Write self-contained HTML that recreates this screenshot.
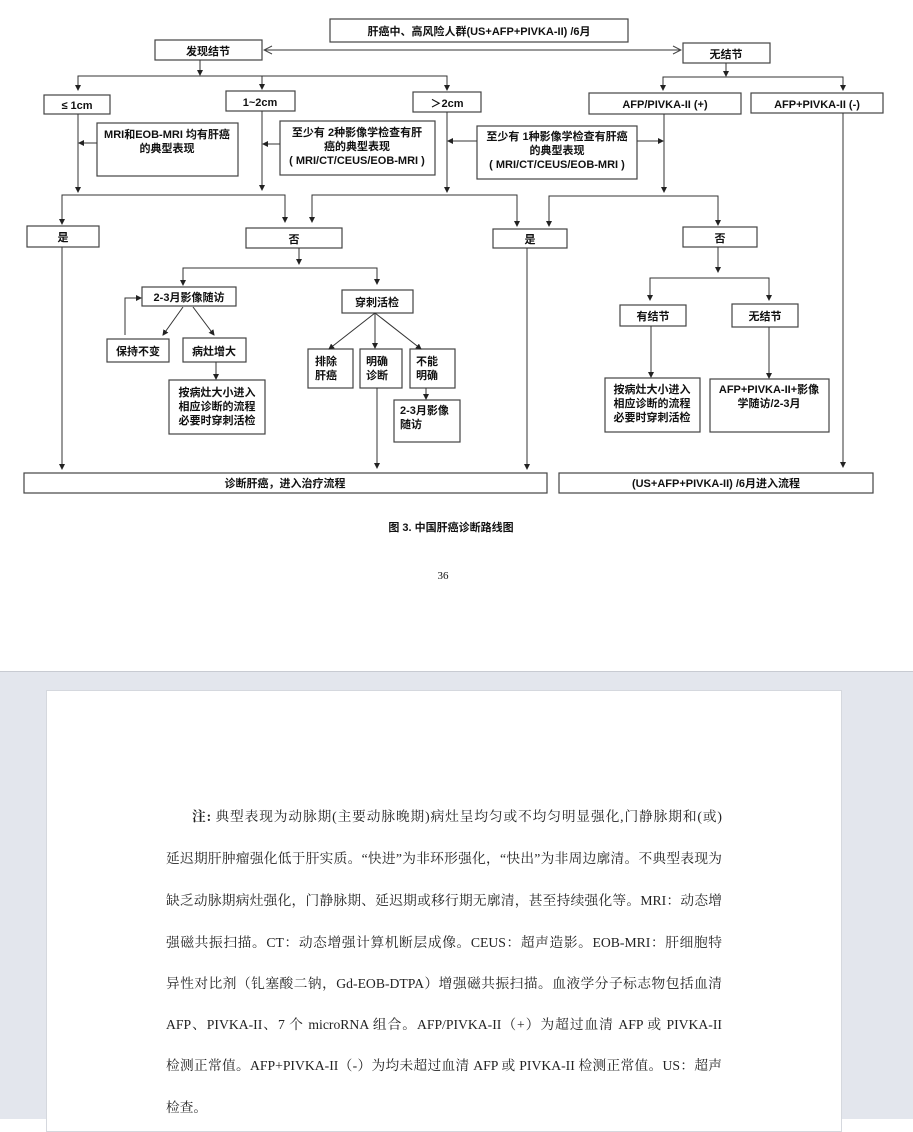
<!DOCTYPE html>
<html><head><meta charset="utf-8"><style>
html,body{margin:0;padding:0;}
body{width:913px;height:1118px;position:relative;overflow:hidden;background:#fff;font-family:"Liberation Sans","Noto Sans CJK SC",sans-serif;}
#gray{position:absolute;left:0;top:671px;width:913px;height:447px;background:#e3e6ed;border-top:1px solid #c8cbd2;}
#page2{position:absolute;left:46px;top:690px;width:794px;height:440px;background:#fff;border:1px solid #d5d8de;}
.ln{position:absolute;left:166px;width:556px;font-family:"Liberation Serif","Noto Serif CJK SC",serif;font-size:13.7px;color:#222;white-space:nowrap;text-align:justify;text-align-last:justify;}
.ln.last{text-align-last:left;}
svg text{font-family:"Liberation Sans","Noto Sans CJK SC",sans-serif;font-weight:bold;font-size:11px;fill:#111;}
</style></head><body>
<svg width="913" height="670" style="position:absolute;left:0;top:0">
<defs>
<marker id="a" markerWidth="6" markerHeight="6" refX="5" refY="3" orient="auto" markerUnits="userSpaceOnUse"><path d="M0,0 L6,3 L0,6z" fill="#222"/></marker>
<marker id="o" markerWidth="10" markerHeight="10" refX="9" refY="5" orient="auto" markerUnits="userSpaceOnUse"><path d="M1,1 L9,5 L1,9" fill="none" stroke="#444"/></marker>
<marker id="os" markerWidth="10" markerHeight="10" refX="1" refY="5" orient="auto" markerUnits="userSpaceOnUse"><path d="M9,1 L1,5 L9,9" fill="none" stroke="#444"/></marker>
</defs>
<g fill="#fff" stroke="#444" stroke-width="1.2">
<rect x="330" y="19" width="298" height="23"/>
<rect x="155" y="40" width="107" height="20"/>
<rect x="683" y="43" width="87" height="20"/>
<rect x="44" y="95" width="66" height="19"/>
<rect x="226" y="91" width="69" height="20"/>
<rect x="413" y="92" width="68" height="20"/>
<rect x="97" y="123" width="141" height="53"/>
<rect x="280" y="121" width="155" height="54"/>
<rect x="477" y="126" width="160" height="53"/>
<rect x="589" y="93" width="152" height="21"/>
<rect x="751" y="93" width="132" height="20"/>
<rect x="27" y="226" width="72" height="21"/>
<rect x="246" y="228" width="96" height="20"/>
<rect x="493" y="229" width="74" height="19"/>
<rect x="683" y="227" width="74" height="20"/>
<rect x="142" y="287" width="94" height="19"/>
<rect x="342" y="290" width="71" height="23"/>
<rect x="107" y="339" width="62" height="23"/>
<rect x="183" y="338" width="63" height="24"/>
<rect x="169" y="380" width="96" height="54"/>
<rect x="308" y="349" width="45" height="39"/>
<rect x="360" y="349" width="42" height="39"/>
<rect x="410" y="349" width="45" height="39"/>
<rect x="394" y="400" width="66" height="42"/>
<rect x="620" y="305" width="66" height="21"/>
<rect x="732" y="304" width="66" height="23"/>
<rect x="605" y="378" width="95" height="54"/>
<rect x="710" y="379" width="119" height="53"/>
<rect x="24" y="473" width="523" height="20"/>
<rect x="559" y="473" width="314" height="20"/>
</g>
<g stroke="#333" stroke-width="1" fill="none">
<line x1="264" y1="50" x2="681" y2="50" marker-end="url(#o)" marker-start="url(#os)"/>
<line x1="200" y1="60" x2="200" y2="75" marker-end="url(#a)"/>
<polyline points="78,90 78,76 447,76 447,90" marker-end="url(#a)"/>
<line x1="78" y1="76" x2="78" y2="90" marker-end="url(#a)"/>
<line x1="262" y1="76" x2="262" y2="89" marker-end="url(#a)"/>
<line x1="78" y1="114" x2="78" y2="192" marker-end="url(#a)"/>
<line x1="262" y1="111" x2="262" y2="190" marker-end="url(#a)"/>
<line x1="447" y1="112" x2="447" y2="192" marker-end="url(#a)"/>
<line x1="97" y1="143" x2="79" y2="143" marker-end="url(#a)"/>
<line x1="280" y1="144" x2="263" y2="144" marker-end="url(#a)"/>
<line x1="477" y1="141" x2="448" y2="141" marker-end="url(#a)"/>
<line x1="637" y1="141" x2="663" y2="141" marker-end="url(#a)"/>
<polyline points="62,224 62,195 285,195 285,222" marker-end="url(#a)"/>
<polyline points="312,222 312,195 517,195 517,226" marker-end="url(#a)"/>
<line x1="62" y1="195" x2="62" y2="224" marker-end="url(#a)"/>
<line x1="312" y1="195" x2="312" y2="222" marker-end="url(#a)"/>
<line x1="726" y1="63" x2="726" y2="76" marker-end="url(#a)"/>
<polyline points="663,90 663,77 843,77 843,90" marker-end="url(#a)"/>
<line x1="663" y1="77" x2="663" y2="90" marker-end="url(#a)"/>
<line x1="664" y1="114" x2="664" y2="192" marker-end="url(#a)"/>
<polyline points="549,226 549,196 718,196 718,225" marker-end="url(#a)"/>
<line x1="549" y1="196" x2="549" y2="226" marker-end="url(#a)"/>
<line x1="843" y1="113" x2="843" y2="467" marker-end="url(#a)"/>
<line x1="718" y1="247" x2="718" y2="272" marker-end="url(#a)"/>
<polyline points="650,300 650,278 769,278 769,300" marker-end="url(#a)"/>
<line x1="650" y1="278" x2="650" y2="300" marker-end="url(#a)"/>
<line x1="651" y1="326" x2="651" y2="377" marker-end="url(#a)"/>
<line x1="769" y1="327" x2="769" y2="378" marker-end="url(#a)"/>
<line x1="62" y1="247" x2="62" y2="469" marker-end="url(#a)"/>
<line x1="527" y1="248" x2="527" y2="469" marker-end="url(#a)"/>
<line x1="299" y1="248" x2="299" y2="264" marker-end="url(#a)"/>
<polyline points="183,285 183,268 377,268 377,284" marker-end="url(#a)"/>
<line x1="183" y1="268" x2="183" y2="285" marker-end="url(#a)"/>
<polyline points="125,335 125,298 141,298" marker-end="url(#a)"/>
<line x1="183" y1="307" x2="163" y2="335" marker-end="url(#a)"/>
<line x1="193" y1="307" x2="214" y2="335" marker-end="url(#a)"/>
<line x1="216" y1="362" x2="216" y2="379" marker-end="url(#a)"/>
<line x1="375" y1="313" x2="329" y2="349" marker-end="url(#a)"/>
<line x1="375" y1="313" x2="375" y2="348" marker-end="url(#a)"/>
<line x1="375" y1="313" x2="421" y2="349" marker-end="url(#a)"/>
<line x1="426" y1="388" x2="426" y2="399" marker-end="url(#a)"/>
<line x1="377" y1="388" x2="377" y2="468" marker-end="url(#a)"/>
</g>
<text x="479" y="35" text-anchor="middle">肝癌中、高风险人群(US+AFP+PIVKA-II) /6月</text>
<text x="208" y="55" text-anchor="middle">发现结节</text>
<text x="726" y="58" text-anchor="middle">无结节</text>
<text x="77" y="109" text-anchor="middle">≤ 1cm</text>
<text x="260" y="106" text-anchor="middle">1~2cm</text>
<text x="447" y="107" text-anchor="middle">＞2cm</text>
<text x="167" y="138" text-anchor="middle">MRI和EOB-MRI 均有肝癌</text>
<text x="167" y="152" text-anchor="middle">的典型表现</text>
<text x="357" y="136" text-anchor="middle">至少有 2种影像学检查有肝</text>
<text x="357" y="150" text-anchor="middle">癌的典型表现</text>
<text x="357" y="164" text-anchor="middle">( MRI/CT/CEUS/EOB-MRI )</text>
<text x="557" y="140" text-anchor="middle">至少有 1种影像学检查有肝癌</text>
<text x="557" y="154" text-anchor="middle">的典型表现</text>
<text x="557" y="168" text-anchor="middle">( MRI/CT/CEUS/EOB-MRI )</text>
<text x="665" y="108" text-anchor="middle" font-size="10">AFP/PIVKA-II (+)</text>
<text x="817" y="108" text-anchor="middle" font-size="10">AFP+PIVKA-II (-)</text>
<text x="63" y="241" text-anchor="middle">是</text>
<text x="294" y="243" text-anchor="middle">否</text>
<text x="530" y="243" text-anchor="middle">是</text>
<text x="720" y="242" text-anchor="middle">否</text>
<text x="189" y="301" text-anchor="middle">2-3月影像随访</text>
<text x="377" y="306" text-anchor="middle">穿刺活检</text>
<text x="138" y="355" text-anchor="middle">保持不变</text>
<text x="214" y="355" text-anchor="middle">病灶增大</text>
<text x="217" y="396" text-anchor="middle">按病灶大小进入</text>
<text x="217" y="410" text-anchor="middle">相应诊断的流程</text>
<text x="217" y="424" text-anchor="middle">必要时穿刺活检</text>
<text x="315" y="365">排除</text><text x="315" y="379">肝癌</text>
<text x="366" y="365">明确</text><text x="366" y="379">诊断</text>
<text x="416" y="365">不能</text><text x="416" y="379">明确</text>
<text x="400" y="414">2-3月影像</text><text x="400" y="428">随访</text>
<text x="653" y="320" text-anchor="middle">有结节</text>
<text x="765" y="320" text-anchor="middle">无结节</text>
<text x="652" y="393" text-anchor="middle">按病灶大小进入</text>
<text x="652" y="407" text-anchor="middle">相应诊断的流程</text>
<text x="652" y="421" text-anchor="middle">必要时穿刺活检</text>
<text x="769" y="393" text-anchor="middle" font-size="10">AFP+PIVKA-II+影像</text>
<text x="769" y="407" text-anchor="middle">学随访/2-3月</text>
<text x="285" y="487" text-anchor="middle">诊断肝癌，进入治疗流程</text>
<text x="716" y="487" text-anchor="middle" font-size="10.5">(US+AFP+PIVKA-II) /6月进入流程</text>
<text x="451" y="531" text-anchor="middle" font-size="13.5">图 3.  中国肝癌诊断路线图</text>
<text x="443" y="579" text-anchor="middle" style="font-family:'Liberation Serif',serif;font-weight:normal;font-size:11px">36</text>
</svg>
<div id="gray"></div>
<div id="page2"></div>
<div class="ln" style="top:805px;left:192px;width:530px"><b>注:</b> 典型表现为动脉期(主要动脉晚期)病灶呈均匀或不均匀明显强化,门静脉期和(或)</div>
<div class="ln" style="top:847px">延迟期肝肿瘤强化低于肝实质。“快进”为非环形强化，“快出”为非周边廓清。不典型表现为</div>
<div class="ln" style="top:889px">缺乏动脉期病灶强化，门静脉期、延迟期或移行期无廓清，甚至持续强化等。MRI：动态增</div>
<div class="ln" style="top:931px">强磁共振扫描。CT：动态增强计算机断层成像。CEUS：超声造影。EOB-MRI：肝细胞特</div>
<div class="ln" style="top:972px">异性对比剂（钆塞酸二钠，Gd-EOB-DTPA）增强磁共振扫描。血液学分子标志物包括血清</div>
<div class="ln" style="top:1013px">AFP、PIVKA-II、7 个 microRNA 组合。AFP/PIVKA-II（+）为超过血清 AFP 或 PIVKA-II</div>
<div class="ln" style="top:1054px">检测正常值。AFP+PIVKA-II（-）为均未超过血清 AFP 或 PIVKA-II 检测正常值。US：超声</div>
<div class="ln last" style="top:1096px">检查。</div>
</body></html>
